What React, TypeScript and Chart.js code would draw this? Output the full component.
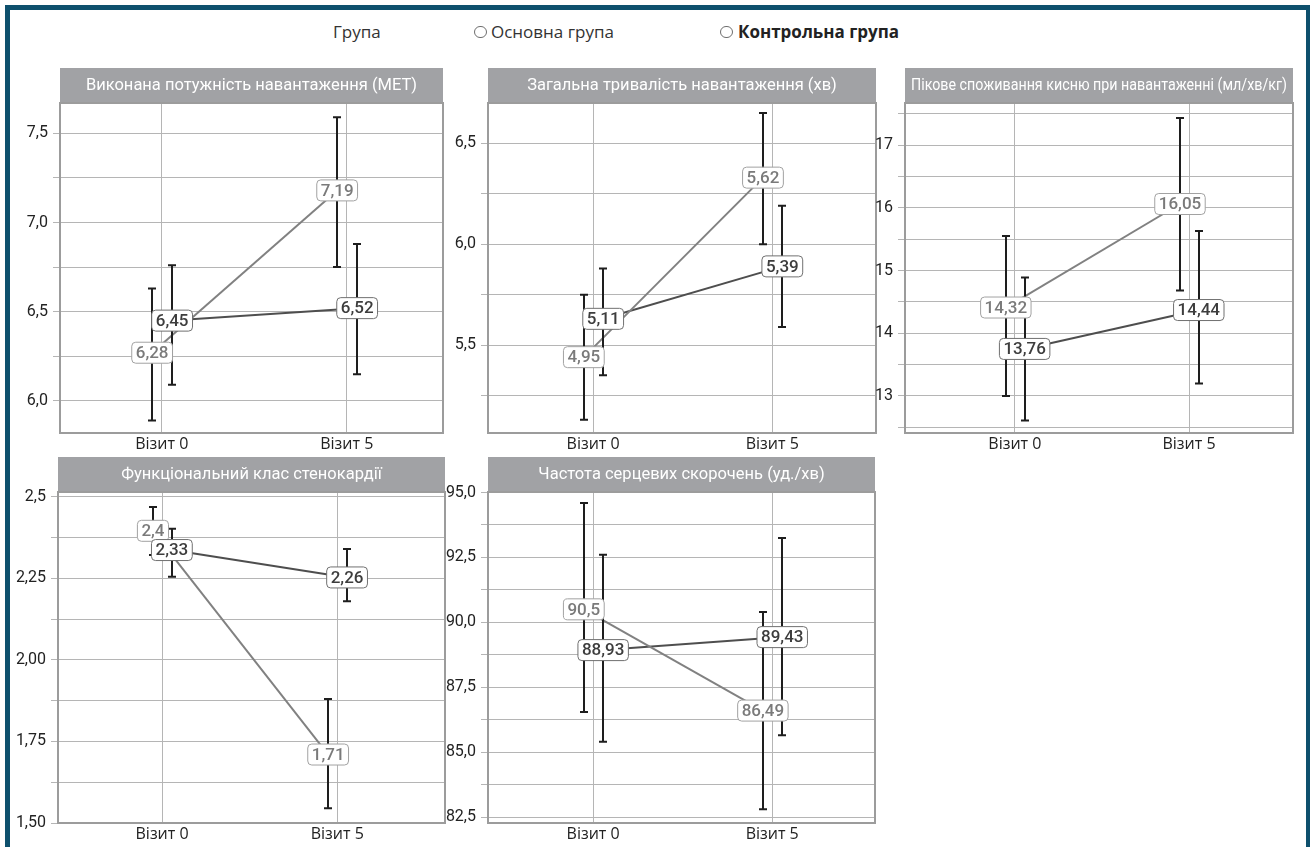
import React, { useEffect, useRef } from 'react';
import { Chart, registerables } from 'chart.js';

Chart.register(...registerables);

// ---------- shared ----------
const visits = ['Візит 0', 'Візит 5'];
const groupNames = ['Основна група', 'Контрольна група'];
const legendTitle = 'Група';

// ---------- Panel 1 ----------
const metTitle = 'Виконана потужність навантаження (МЕТ)';
const metMainMean = [6.27, 7.18];
const metMainLabel = ['6,28', '7,19'];
const metMainLow = [5.89, 6.75];
const metMainHigh = [6.63, 7.59];
const metCtrlMean = [6.45, 6.52];
const metCtrlLabel = ['6,45', '6,52'];
const metCtrlLow = [6.09, 6.15];
const metCtrlHigh = [6.76, 6.88];
const metTickValues = [6.0, 6.5, 7.0, 7.5];
const metTickLabels = ['6,0', '6,5', '7,0', '7,5'];

// ---------- Panel 2 ----------
const durTitle = 'Загальна тривалість навантаження (хв)';
const durMainMean = [5.44, 6.33];
const durMainLabel = ['4,95', '5,62'];
const durMainLow = [5.13, 6.0];
const durMainHigh = [5.75, 6.65];
const durCtrlMean = [5.63, 5.89];
const durCtrlLabel = ['5,11', '5,39'];
const durCtrlLow = [5.35, 5.59];
const durCtrlHigh = [5.88, 6.19];
const durTickValues = [5.5, 6.0, 6.5];
const durTickLabels = ['5,5', '6,0', '6,5'];

// ---------- Panel 3 ----------
const vo2Title = 'Пікове споживання кисню при навантаженні (мл/хв/кг)';
const vo2MainMean = [14.41, 16.06];
const vo2MainLabel = ['14,32', '16,05'];
const vo2MainLow = [13.0, 14.68];
const vo2MainHigh = [15.55, 17.43];
const vo2CtrlMean = [13.75, 14.37];
const vo2CtrlLabel = ['13,76', '14,44'];
const vo2CtrlLow = [12.61, 13.2];
const vo2CtrlHigh = [14.89, 15.63];
const vo2TickValues = [13, 14, 15, 16, 17];
const vo2TickLabels = ['13', '14', '15', '16', '17'];

// ---------- Panel 4 ----------
const fcTitle = 'Функціональний клас стенокардії';
const fcMainMean = [2.396, 1.71];
const fcMainLabel = ['2,4', '1,71'];
const fcMainLow = [2.322, 1.545];
const fcMainHigh = [2.469, 1.88];
const fcCtrlMean = [2.337, 2.253];
const fcCtrlLabel = ['2,33', '2,26'];
const fcCtrlLow = [2.255, 2.18];
const fcCtrlHigh = [2.402, 2.34];
const fcTickValues = [1.5, 1.75, 2.0, 2.25, 2.5];
const fcTickLabels = ['1,50', '1,75', '2,00', '2,25', '2,5'];

// ---------- Panel 5 ----------
const hrTitle = 'Частота серцевих скорочень (уд./хв)';
const hrMainMean = [90.5, 86.6];
const hrMainLabel = ['90,5', '86,49'];
const hrMainLow = [86.55, 82.8];
const hrMainHigh = [94.6, 90.4];
const hrCtrlMean = [88.93, 89.43];
const hrCtrlLabel = ['88,93', '89,43'];
const hrCtrlLow = [85.4, 85.65];
const hrCtrlHigh = [92.6, 93.25];
const hrTickValues = [82.5, 85, 87.5, 90, 92.5, 95];
const hrTickLabels = ['82,5', '85,0', '87,5', '90,0', '92,5', '95,0'];

// ---------- styling / layout ----------
const LINE_COLORS = ['#818181', '#4e4e4e'];
const LABEL_TEXT = ['#7a7a7a', '#3d3d3d'];
const LABEL_BORDER = ['#a2a2a2', '#707070'];
const X_OFFSETS = [-0.052, 0.056];
const GRID = '#b5b5b5';
const YW = 50;
const PT = 43;
const XH = 30;
const PR = 10;

type Series = { mean: number[]; label: string[]; low: number[]; high: number[] };
type Panel = {
  title: string;
  series: Series[];
  tickValues: number[];
  tickLabels: string[];
  yMin: number;
  yMax: number;
  gridStep: number;
  xMin: number;
  xMax: number;
  plot: { l: number; t: number; r: number; b: number };
};

const panels: Panel[] = [
  {
    title: metTitle,
    series: [
      { mean: metMainMean, label: metMainLabel, low: metMainLow, high: metMainHigh },
      { mean: metCtrlMean, label: metCtrlLabel, low: metCtrlLow, high: metCtrlHigh },
    ],
    tickValues: metTickValues, tickLabels: metTickLabels,
    yMin: 5.82, yMax: 7.67, gridStep: 0.25, xMin: -0.55, xMax: 1.52,
    plot: { l: 60, t: 103, r: 443, b: 433 },
  },
  {
    title: durTitle,
    series: [
      { mean: durMainMean, label: durMainLabel, low: durMainLow, high: durMainHigh },
      { mean: durCtrlMean, label: durCtrlLabel, low: durCtrlLow, high: durCtrlHigh },
    ],
    tickValues: durTickValues, tickLabels: durTickLabels,
    yMin: 5.064, yMax: 6.70, gridStep: 0.25, xMin: -0.587, xMax: 1.579,
    plot: { l: 488, t: 103, r: 876, b: 433 },
  },
  {
    title: vo2Title,
    series: [
      { mean: vo2MainMean, label: vo2MainLabel, low: vo2MainLow, high: vo2MainHigh },
      { mean: vo2CtrlMean, label: vo2CtrlLabel, low: vo2CtrlLow, high: vo2CtrlHigh },
    ],
    tickValues: vo2TickValues, tickLabels: vo2TickLabels,
    yMin: 12.41, yMax: 17.67, gridStep: 0.5, xMin: -0.631, xMax: 1.597,
    plot: { l: 905, t: 103, r: 1293, b: 433 },
  },
  {
    title: fcTitle,
    series: [
      { mean: fcMainMean, label: fcMainLabel, low: fcMainLow, high: fcMainHigh },
      { mean: fcCtrlMean, label: fcCtrlLabel, low: fcCtrlLow, high: fcCtrlHigh },
    ],
    tickValues: fcTickValues, tickLabels: fcTickLabels,
    yMin: 1.5, yMax: 2.515, gridStep: 0.125, xMin: -0.594, xMax: 1.615,
    plot: { l: 58, t: 492, r: 445, b: 823 },
  },
  {
    title: hrTitle,
    series: [
      { mean: hrMainMean, label: hrMainLabel, low: hrMainLow, high: hrMainHigh },
      { mean: hrCtrlMean, label: hrCtrlLabel, low: hrCtrlLow, high: hrCtrlHigh },
    ],
    tickValues: hrTickValues, tickLabels: hrTickLabels,
    yMin: 82.27, yMax: 95.02, gridStep: 1.25, xMin: -0.587, xMax: 1.574,
    plot: { l: 488, t: 492, r: 875, b: 823 },
  },
];

function gridValues(p: Panel): number[] {
  const out: number[] = [];
  const k0 = Math.ceil(p.yMin / p.gridStep - 1e-9);
  const k1 = Math.floor(p.yMax / p.gridStep + 1e-9);
  for (let k = k0; k <= k1; k++) out.push(+(k * p.gridStep).toFixed(6));
  return out;
}

function labelFor(p: Panel, v: number): string {
  const i = p.tickValues.findIndex((t) => Math.abs(t - v) < 1e-6);
  return i >= 0 ? p.tickLabels[i] : '';
}

function PanelChart({ p }: { p: Panel }) {
  const ref = useRef<HTMLCanvasElement>(null);
  const w = p.plot.r - p.plot.l + YW + PR;
  const h = p.plot.b - p.plot.t + PT + XH;

  useEffect(() => {
    const canvas = ref.current;
    if (!canvas) return;
    const decor = {
      id: 'decor',
      beforeDraw(chart: any) {
        const { ctx, chartArea: a } = chart;
        ctx.save();
        ctx.fillStyle = '#a1a2a5';
        ctx.fillRect(a.left, a.top - 35, a.right - a.left, 35);
        ctx.fillStyle = '#ffffff';
        ctx.font = '16.5px Roboto';
        ctx.textAlign = 'center';
        ctx.textBaseline = 'middle';
        ctx.fillText(p.title, (a.left + a.right) / 2, a.top - 17, a.right - a.left - 12);
        ctx.restore();
      },
      beforeDatasetsDraw(chart: any) {
        const { ctx, chartArea: a } = chart;
        ctx.save();
        ctx.strokeStyle = '#9c9c9c';
        ctx.lineWidth = 2;
        ctx.strokeRect(a.left, a.top, a.right - a.left, a.bottom - a.top);
        ctx.restore();
      },
      afterDatasetsDraw(chart: any) {
        const { ctx } = chart;
        const xs = chart.scales.x;
        const ys = chart.scales.y;
        ctx.save();
        // error bars
        ctx.strokeStyle = '#1e1e1e';
        ctx.lineWidth = 2;
        p.series.forEach((s, si) => {
          s.mean.forEach((_, i) => {
            const px = Math.round(xs.getPixelForValue(i + X_OFFSETS[si]));
            const yl = ys.getPixelForValue(s.low[i]);
            const yh = ys.getPixelForValue(s.high[i]);
            ctx.beginPath();
            ctx.moveTo(px, yl);
            ctx.lineTo(px, yh);
            ctx.moveTo(px - 4, yl);
            ctx.lineTo(px + 4, yl);
            ctx.moveTo(px - 4, yh);
            ctx.lineTo(px + 4, yh);
            ctx.stroke();
          });
        });
        // value labels
        ctx.font = '500 17px Roboto';
        ctx.textAlign = 'center';
        ctx.textBaseline = 'middle';
        p.series.forEach((s, si) => {
          s.mean.forEach((v, i) => {
            const px = xs.getPixelForValue(i + X_OFFSETS[si]);
            const py = ys.getPixelForValue(v);
            const txt = s.label[i];
            const tw = ctx.measureText(txt).width;
            const bw = tw + 8;
            const bh = 21;
            ctx.beginPath();
            ctx.roundRect(px - bw / 2, py - bh / 2, bw, bh, 4);
            ctx.fillStyle = '#ffffff';
            ctx.fill();
            ctx.strokeStyle = LABEL_BORDER[si];
            ctx.lineWidth = 1;
            ctx.stroke();
            ctx.fillStyle = LABEL_TEXT[si];
            ctx.fillText(txt, px, py + 1);
          });
        });
        ctx.restore();
      },
    };

    const chart = new Chart(canvas, {
      type: 'line',
      data: {
        datasets: p.series.map((s, si) => ({
          label: groupNames[si],
          data: s.mean.map((y, i) => ({ x: i + X_OFFSETS[si], y })),
          borderColor: LINE_COLORS[si],
          backgroundColor: LINE_COLORS[si],
          borderWidth: 2,
          pointRadius: 0,
          fill: false,
          tension: 0,
        })),
      },
      options: {
        responsive: false,
        animation: false,
        layout: { padding: { top: PT, right: PR, bottom: 0, left: 0 } },
        plugins: {
          legend: { display: false },
          tooltip: { enabled: false },
          title: { display: false },
        },
        scales: {
          x: {
            type: 'linear',
            min: p.xMin,
            max: p.xMax,
            afterBuildTicks: (sc: any) => {
              sc.ticks = visits.map((_, i) => ({ value: i }));
            },
            afterFit: (sc: any) => {
              sc.height = XH;
            },
            ticks: {
              callback: (v: any) => visits[Math.round(Number(v))] ?? '',
              font: { family: 'Open Sans', size: 16 },
              color: '#222222',
              padding: 2,
              maxRotation: 0,
              autoSkip: false,
            },
            grid: { color: GRID, lineWidth: 1, drawTicks: false },
            border: { display: false },
          },
          y: {
            type: 'linear',
            min: p.yMin,
            max: p.yMax,
            afterBuildTicks: (sc: any) => {
              sc.ticks = gridValues(p).map((v) => ({ value: v }));
            },
            afterFit: (sc: any) => {
              sc.width = YW;
            },
            ticks: {
              callback: (v: any) => labelFor(p, Number(v)),
              font: { family: 'Roboto', size: 16 },
              color: '#222222',
              padding: 5,
              autoSkip: false,
            },
            grid: { color: GRID, lineWidth: 1, tickLength: 7 },
            border: { display: false },
          },
        },
      } as any,
      plugins: [decor],
    });
    return () => chart.destroy();
  }, [p]);

  return (
    <canvas
      ref={ref}
      width={w}
      height={h}
      style={{ position: 'absolute', left: p.plot.l - YW, top: p.plot.t - PT, width: w, height: h }}
    />
  );
}

function LegendMark({ left }: { left: number }) {
  return (
    <span
      style={{
        position: 'absolute',
        left,
        top: 26,
        width: 13,
        height: 12,
        border: '1.5px solid #6e6e6e',
        borderRadius: 6,
        boxSizing: 'border-box',
      }}
    />
  );
}

export default function App() {
  const legendFont = '"Open Sans", sans-serif';
  return (
    <div
      style={{
        position: 'absolute',
        left: 0,
        top: 0,
        width: 1310,
        height: 847,
        overflow: 'hidden',
        background: '#ffffff',
      }}
    >
      <div
        style={{
          position: 'absolute',
          left: 5,
          top: 5,
          width: 1306,
          height: 900,
          border: '5px solid #0e506d',
          boxSizing: 'border-box',
        }}
      />
      <div style={{ position: 'absolute', left: 333, top: 21, fontFamily: legendFont, fontSize: 17, lineHeight: '22px', color: '#333' }}>
        {legendTitle}
      </div>
      <LegendMark left={474} />
      <div style={{ position: 'absolute', left: 491, top: 21, fontFamily: legendFont, fontSize: 17, lineHeight: '22px', color: '#333' }}>
        {groupNames[0]}
      </div>
      <LegendMark left={720} />
      <div style={{ position: 'absolute', left: 738, top: 21, fontFamily: legendFont, fontSize: 17, fontWeight: 700, lineHeight: '22px', color: '#222' }}>
        {groupNames[1]}
      </div>
      {panels.map((p, i) => (
        <PanelChart key={i} p={p} />
      ))}
    </div>
  );
}
